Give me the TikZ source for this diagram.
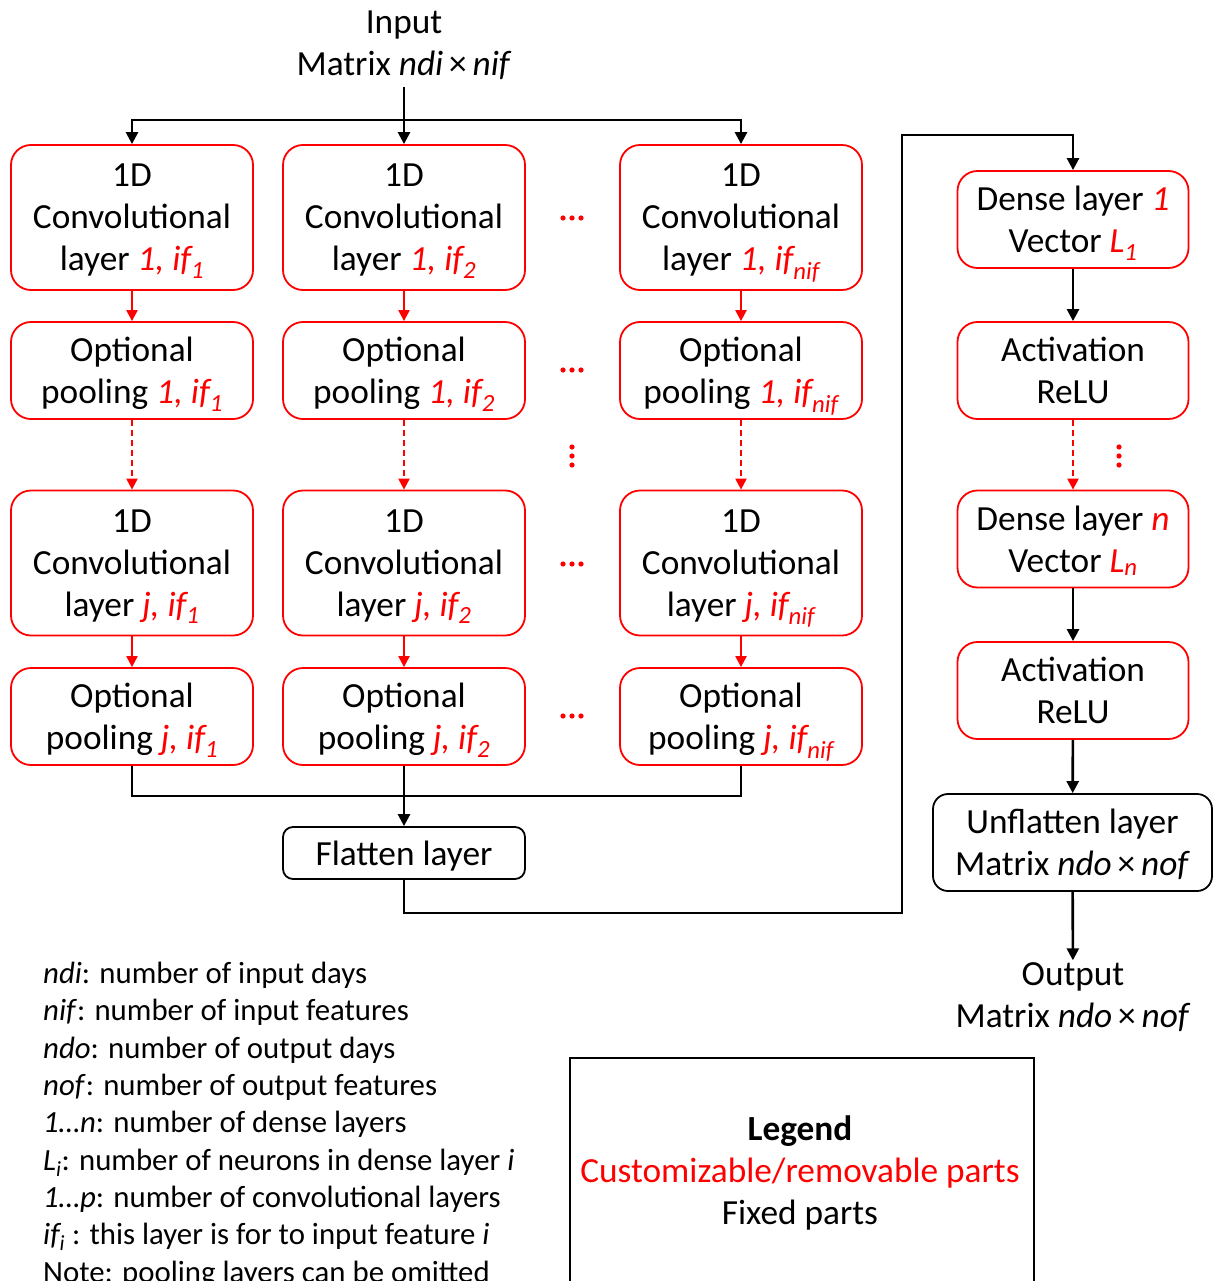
\documentclass[tikz,border=0pt]{standalone}
\usepackage{fontspec}
\setmainfont{Carlito}
\usetikzlibrary{arrows.meta}
\begin{document}
\begin{tikzpicture}[x=1pt,y=-1pt,
  txt/.style={font=\fontsize{35.3}{42}\selectfont, align=center, inner sep=2pt},
  redbox/.style={txt, draw=red, line width=1.8pt, rounded corners=20pt,
    minimum width=242pt, inner sep=0pt, text depth=0pt},
  convbox/.style={redbox, minimum height=145pt},
  poolbox/.style={redbox, minimum height=97pt},
  densebox/.style={redbox, minimum width=231pt, minimum height=97pt},
  blkbox/.style={txt, draw=black, line width=1.8pt, inner sep=0pt, text depth=0pt},
  conn/.style={line width=2.6pt, draw=black},
  arr/.style={conn, -{Triangle[length=12pt,width=12pt]}},
  rarr/.style={line width=2.2pt, draw=red, -{Triangle[length=11pt,width=11pt]}},
  rdash/.style={rarr, dash pattern=on 6pt off 4pt},
  rdot/.style={fill=red, draw=none}
]
\useasboundingbox (0,0) rectangle (1213,1281);

% input
\node[txt, inner ysep=7pt] (in) at (404,45) {Input\\Matrix \textit{ndi}\,×\,\textit{nif}};
\coordinate (split) at (404,120);

% convolutional branches
\node[convbox] (c11) at (132,217.5) {1D\\Convolutional\\layer {\color{red}\itshape 1, if\textsubscript{1}}};
\node[convbox] (c12) at (404,217.5) {1D\\Convolutional\\layer {\color{red}\itshape 1, if\textsubscript{2}}};
\node[convbox] (c13) at (741,217.5) {1D\\Convolutional\\layer {\color{red}\itshape 1, if\textsubscript{nif}}};

\node[poolbox] (p11) at (132,370.5) {Optional\\pooling {\color{red}\itshape 1, if\textsubscript{1}}};
\node[poolbox] (p12) at (404,370.5) {Optional\\pooling {\color{red}\itshape 1, if\textsubscript{2}}};
\node[poolbox] (p13) at (741,370.5) {Optional\\pooling {\color{red}\itshape 1, if\textsubscript{nif}}};

\node[convbox] (c31) at (132,563) {1D\\Convolutional\\layer {\color{red}\itshape j, if\textsubscript{1}}};
\node[convbox] (c32) at (404,563) {1D\\Convolutional\\layer {\color{red}\itshape j, if\textsubscript{2}}};
\node[convbox] (c33) at (741,563) {1D\\Convolutional\\layer {\color{red}\itshape j, if\textsubscript{nif}}};

\node[poolbox] (p41) at (132,716.5) {Optional\\pooling {\color{red}\itshape j, if\textsubscript{1}}};
\node[poolbox] (p42) at (404,716.5) {Optional\\pooling {\color{red}\itshape j, if\textsubscript{2}}};
\node[poolbox] (p43) at (741,716.5) {Optional\\pooling {\color{red}\itshape j, if\textsubscript{nif}}};

\node[blkbox, rounded corners=10pt, minimum width=242pt, minimum height=52pt] (fl) at (404,853) {Flatten layer};

% dense part
\node[densebox] (d1) at (1073,219.5) {Dense layer {\color{red}\itshape 1}\\Vector {\color{red}\itshape L\textsubscript{1}}};
\node[densebox] (a1) at (1073,370.5) {Activation\\ReLU};
\node[densebox] (dn) at (1073,539) {Dense layer {\color{red}\itshape n}\\Vector {\color{red}\itshape L\textsubscript{n}}};
\node[densebox] (a2) at (1073,690.5) {Activation\\ReLU};
\node[blkbox, rounded corners=15pt, minimum width=279pt, minimum height=97pt] (uf) at (1072.5,842.5) {Unflatten layer\\Matrix \textit{ndo}\,×\,\textit{nof}};
\node[txt] (out) at (1073,997) {Output\\Matrix \textit{ndo}\,×\,\textit{nof}};

% connectors: input to branches
\draw[arr] (in) -- (c12);
\draw[arr] (split) -| (c11);
\draw[arr] (split) -| (c13);

% within branches
\foreach \col in {1,2,3} {
  \draw[rarr] (c1\col) -- (p1\col);
  \draw[rdash] (p1\col) -- (c3\col);
  \draw[rarr] (c3\col) -- (p4\col);
}

% merge into flatten
\coordinate (merge) at (404,796);
\draw[conn] (p41.south) |- (merge);
\draw[conn] (p43.south) |- (merge);
\draw[arr] (p42) -- (fl);

% flatten to dense
\coordinate (r1) at (902,913);
\coordinate (r2) at (902,135);
\draw[arr] (fl.south) |- (r1) -- (r2) -| (d1.north);

\draw[arr] (d1) -- (a1);
\draw[rdash] (a1) -- (dn);
\draw[arr] (dn) -- (a2);
\draw[arr] (a2) -- (uf);
\draw[arr] (uf) -- (out);

% ellipsis dots between columns
\foreach \yy in {218,370,564,716} {
  \foreach \xx in {-9,0,9} \fill[rdot] (572+\xx,\yy) circle (2.6pt);
}
\foreach \dy in {-9,0,9} {
  \fill[rdot] (572,456+\dy) circle (2.6pt);
  \fill[rdot] (1119,456+\dy) circle (2.6pt);
}

% notation
\node[anchor=north west, align=left, inner sep=0pt,
  font=\fontsize{30.8}{37.3}\selectfont] (notes) at (43,962) {%
\textit{ndi}: number of input days\\
\textit{nif}: number of input features\\
\textit{ndo}: number of output days\\
\textit{nof}: number of output features\\
\textit{1…n}: number of dense layers\\
\textit{L\textsubscript{i}}: number of neurons in dense layer \textit{i}\\
\textit{1…p}: number of convolutional layers\\
\textit{if\textsubscript{i}} : this layer is for to input feature \textit{i}\\
Note: pooling layers can be omitted};

% legend
\node[draw=black, line width=1.6pt, minimum width=464pt, minimum height=270pt,
  anchor=north west] (leg) at (569,1057) {};
\node[txt] (legtxt) at (800,1173) {\textbf{Legend}\\{\color{red}Customizable/removable parts}\\Fixed parts};
\end{tikzpicture}
\end{document}
